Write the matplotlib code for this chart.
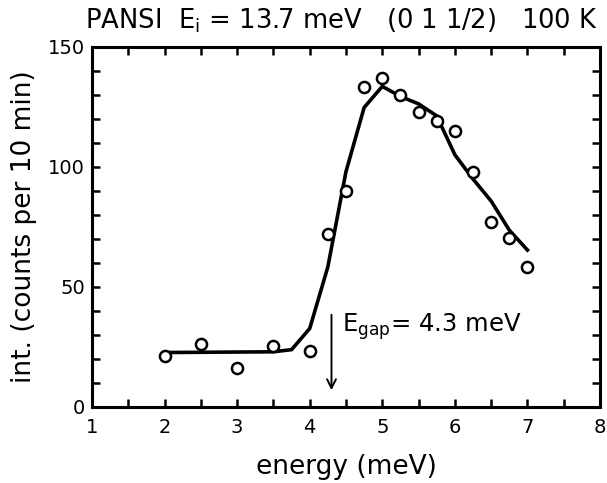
import matplotlib
matplotlib.use("Agg")
import matplotlib.pyplot as plt
from matplotlib.ticker import MultipleLocator

plt.rcParams['font.family'] = ['DejaVu Sans']
plt.rcParams['mathtext.default'] = 'regular'

# measured points (open circles)
energy_pts = [2.0, 2.5, 3.0, 3.5, 4.0, 4.25, 4.5, 4.75, 5.0, 5.25, 5.5, 5.75, 6.0, 6.25, 6.5, 6.75, 7.0]
counts_pts = [21.3, 26.4, 16.3, 25.5, 23.4, 72.1, 90.0, 133.2, 137.1, 130.1, 123.0, 119.1, 115.2, 98.0, 77.2, 70.3, 58.3]

# fitted curve
energy_fit = [2.0, 3.5, 3.75, 4.0, 4.25, 4.5, 4.75, 5.0, 5.25, 5.5, 5.75, 6.0, 6.25, 6.5, 6.75, 7.0]
counts_fit = [22.7, 23.0, 23.9, 32.7, 58.4, 98.1, 124.8, 133.6, 129.4, 126.3, 121.3, 105.1, 95.0, 85.8, 73.7, 65.4]

x_ticks = [1, 2, 3, 4, 5, 6, 7, 8]
y_ticks = [0, 50, 100, 150]
e_gap = 4.3

fig = plt.figure(figsize=(6.07, 4.83), dpi=100)
ax = fig.add_axes([92/607, 1-407/483, 508/607, 360/483])

ax.plot(energy_fit, counts_fit, color='black', lw=2.6, solid_joinstyle='miter', zorder=2)
ax.plot(energy_pts, counts_pts, linestyle='none', marker='o', markersize=8,
        markerfacecolor='white', markeredgecolor='black', markeredgewidth=1.8, zorder=3)

ax.annotate('', xy=(e_gap, 5.8), xytext=(e_gap, 39.6),
            arrowprops=dict(arrowstyle='->', color='black', lw=1.4, mutation_scale=16))
ax.text(4.44, 33.5, r'$E_{gap}$= 4.3 meV', fontsize=17.5, va='center', ha='left')

ax.set_xlim(1, 8)
ax.set_ylim(0, 150)
ax.set_xticks(x_ticks)
ax.set_yticks(y_ticks)
ax.xaxis.set_minor_locator(MultipleLocator(0.5))
ax.yaxis.set_minor_locator(MultipleLocator(10))
ax.tick_params(which='both', direction='in', length=6, width=1.8, top=True, right=True,
               labelsize=14)
ax.tick_params(axis='x', which='major', pad=8)
ax.tick_params(axis='y', which='major', pad=5)
for s in ax.spines.values():
    s.set_linewidth(2.2)

ax.set_xlabel('energy (meV)', fontsize=19, labelpad=12)
ax.set_ylabel('int. (counts per 10 min)', fontsize=19, labelpad=8)

fig.text(0.563, 0.957, r'PANSI  $E_i$ = 13.7 meV   (0 1 1/2)   100 K',
         fontsize=18.6, ha='center', va='center')

fig.savefig('out.png', dpi=100)
